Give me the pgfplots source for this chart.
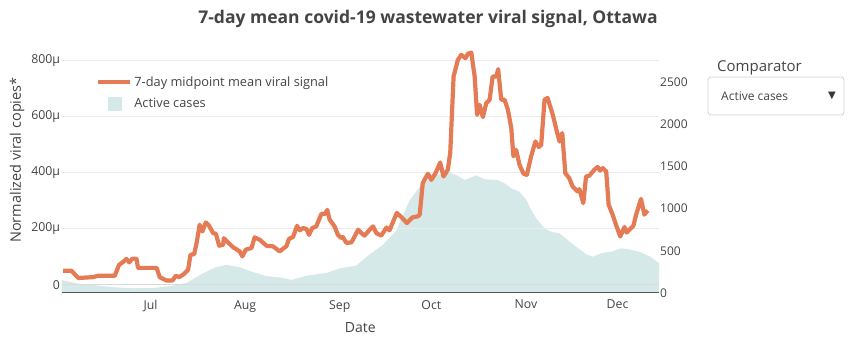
\documentclass[border=0pt]{standalone}
\usepackage{pgfplots}
\pgfplotsset{compat=1.18}
\usepackage{fontspec}
\setmainfont{Open Sans}
\newfontfamily\symfont{DejaVu Sans}
\definecolor{orangec}{RGB}{228,123,84}
\definecolor{tealc}{RGB}{213,234,232}
\definecolor{gridc}{RGB}{236,236,236}
\definecolor{zeroc}{RGB}{218,218,218}
\definecolor{txt}{RGB}{68,68,68}
\definecolor{boxc}{RGB}{204,210,222}
\begin{document}
\begin{tikzpicture}[x=1pt,y=1pt]
\path[use as bounding box] (0,0) rectangle (852,351);
% right axis: active cases
\begin{axis}[at={(61.7pt,58pt)}, anchor=south west, width=597.3pt, height=253pt, scale only axis,
  xmin=-29.1, xmax=166.6, ymin=0, ymax=3000,
  axis line style={draw=none}, xtick=\empty,
  ytick={0,500,1000,1500,2000,2500}, yticklabel pos=right,
  major tick length=0pt,
  ticklabel style={font=\fontsize{12}{14}\selectfont, text=txt},
  yticklabel style={anchor=west, inner sep=1pt},
  /pgf/number format/assume math mode=true,
  scaled y ticks=false, /pgf/number format/set thousands separator={}]
\addplot[fill=tealc, draw=none] coordinates {
(-29.1,155) (-24.3,115) (-18.8,95) (-12.2,68) (-5.7,56) (0.9,60) (6.3,80) (11.8,120)
(17.2,233) (21.6,308) (24.9,334) (29.2,305) (33.6,248) (38.0,200) (42.3,186) (46.2,156)
(51.1,205) (57.6,238) (62.0,292) (67.4,325) (71.8,458) (76.1,569) (80.5,740) (84.9,1100)
(88.2,1260) (90.5,1330) (92.5,1390) (95.0,1410) (98.0,1426) (100.2,1400) (102.9,1340)
(106.7,1395) (109.4,1350) (113.8,1339) (116.5,1290) (118.2,1241) (120.9,1200) (123.1,1105)
(124.7,986) (126.4,886) (129.1,767) (131.3,726) (134.0,707) (136.7,628) (139.4,549)
(142.7,462) (144.9,430) (148.2,478) (150.9,489) (154.2,530) (156.3,521) (160.2,489)
(163.4,438) (166.6,355)
} \closedcycle;
\end{axis}
% left axis: viral signal
\begin{axis}[at={(61.7pt,58pt)}, anchor=south west, width=597.3pt, height=253pt, scale only axis,
  xmin=-29.1, xmax=166.6, ymin=-29.6, ymax=873,
  axis line style={draw=none},
  ymajorgrids, grid style={gridc, line width=1pt},
  ytick={200,400,600,800}, yticklabels={200μ,400μ,600μ,800μ},
  extra y ticks={0}, extra y tick labels={0},
  extra y tick style={grid style={zeroc, line width=1pt}},
  xtick={0,31,62,92,123,153}, xticklabels={Jul,Aug,Sep,Oct,Nov,Dec},
  major tick length=0pt,
  ticklabel style={font=\fontsize{12.3}{14}\selectfont, text=txt},
  yticklabel style={anchor=east, inner sep=1.5pt},
  xticklabel style={inner sep=0pt, yshift=-7pt},
  xlabel={Date},
  every axis x label/.style={at={(rel axis cs:0.5,0)}, anchor=center, yshift=-35pt, font=\fontsize{14}{16}\selectfont, text=txt},
  legend style={at={(0.0507,0.88)}, anchor=north west, fill=white, draw=none,
    font=\fontsize{12.8}{14}\selectfont, text=txt, inner xsep=4pt, inner ysep=4pt,
    row sep=6.5pt, legend cell align=left},
  legend image code/.code={\draw[#1] (0pt,0pt) -- (32pt,0pt);}]
\addplot[orangec, line width=4.2pt, line join=round] coordinates {
(-28.6,50) (-25.9,50) (-23.7,24) (-18.8,27) (-17.2,32) (-11.7,32) (-10.3,71) (-9.0,81)
(-7.9,92) (-7.0,80) (-5.9,93) (-4.6,93) (-4.1,60) (2.0,60) (3.0,27) (5.2,15) (7.2,15)
(8.3,32) (9.4,27) (10.7,36) (12.3,53) (13.1,107) (14.3,109) (15.1,149) (16.1,214)
(17.0,190) (18.1,222) (19.2,210) (20.5,184) (21.4,182) (22.5,139) (23.8,143) (24.0,166)
(27.0,134) (29.2,119) (30.1,101) (31.2,125) (33.1,131) (34.1,169) (35.8,160) (38.0,139)
(40.1,137) (42.3,119) (44.5,137) (45.4,164) (46.7,170) (48.0,210) (48.9,194) (50.0,202)
(51.1,199) (51.9,178) (53.0,202) (54.3,208) (56.0,253) (57.1,252) (57.9,267) (58.7,232)
(60.3,208) (61.4,178) (62.5,166) (63.0,170) (64.2,149) (65.8,151) (66.3,160) (68.0,196)
(69.1,184) (70.1,175) (72.3,202) (72.9,208) (74.0,184) (75.6,175) (77.3,204) (78.3,194)
(80.7,256) (82.2,241) (84.0,220) (85.8,240) (87.6,244) (88.2,250) (89.2,363) (90.9,396)
(92.0,374) (93.4,398) (94.9,436) (96.0,386) (97.4,410) (98.2,470) (99.3,743) (100.7,802)
(101.8,820) (103.2,808) (104.0,824) (105.1,828) (106.2,743) (107.0,606) (107.8,642)
(108.9,598) (110.0,648) (111.1,660) (112.1,743) (113.3,743) (113.9,769) (114.9,660)
(116.0,660) (117.1,624) (118.2,559) (118.9,458) (119.8,481) (120.9,428) (122.2,396)
(123.3,392) (124.7,458) (126.1,511) (127.2,491) (128.0,499) (129.1,660) (130.1,666)
(131.8,606) (133.4,535) (134.0,511) (134.9,541) (135.9,398) (137.2,380) (138.3,350)
(139.9,333) (140.5,341) (141.8,291) (142.7,386) (143.8,389) (145.4,410) (146.5,420)
(147.3,407) (148.2,416) (149.3,404) (150.1,285) (151.4,250) (152.5,214) (153.9,172)
(155.3,206) (156.0,186) (158.2,210) (159.1,250) (160.7,306) (161.8,250) (162.9,265)
};
\addlegendentry{7-day midpoint mean viral signal}
\addlegendimage{legend image code/.code={\fill[tealc] (9.5pt,-6.5pt) rectangle (22.5pt,6.5pt);}}
\addlegendentry{Active cases}
\draw[txt!90, line width=1.2pt] (rel axis cs:0,0) -- (rel axis cs:1,0);
\end{axis}
% y axis title
\node[rotate=90, text=txt, font=\fontsize{14.5}{16}\selectfont, inner sep=0pt] at (17,191) {Normalized viral copies*};
% title
\node[text=txt, font=\fontsize{17.5}{20}\selectfont\bfseries] at (428,332) {7-day mean covid-19 wastewater viral signal, Ottawa};
% comparator
\node[anchor=west, text=txt, font=\fontsize{15}{18}\selectfont, inner sep=0pt] at (717,283) {Comparator};
\draw[boxc, line width=0.8pt, rounded corners=3pt] (708,236) rectangle (844,274);
\node[anchor=west, text=txt, font=\fontsize{12}{14}\selectfont, inner sep=0pt] at (721,255) {Active cases};
\node[text=txt!80!black, font=\symfont\fontsize{10}{12}\selectfont, inner sep=0pt] at (832,255.5) {▼};
\end{tikzpicture}
\end{document}
